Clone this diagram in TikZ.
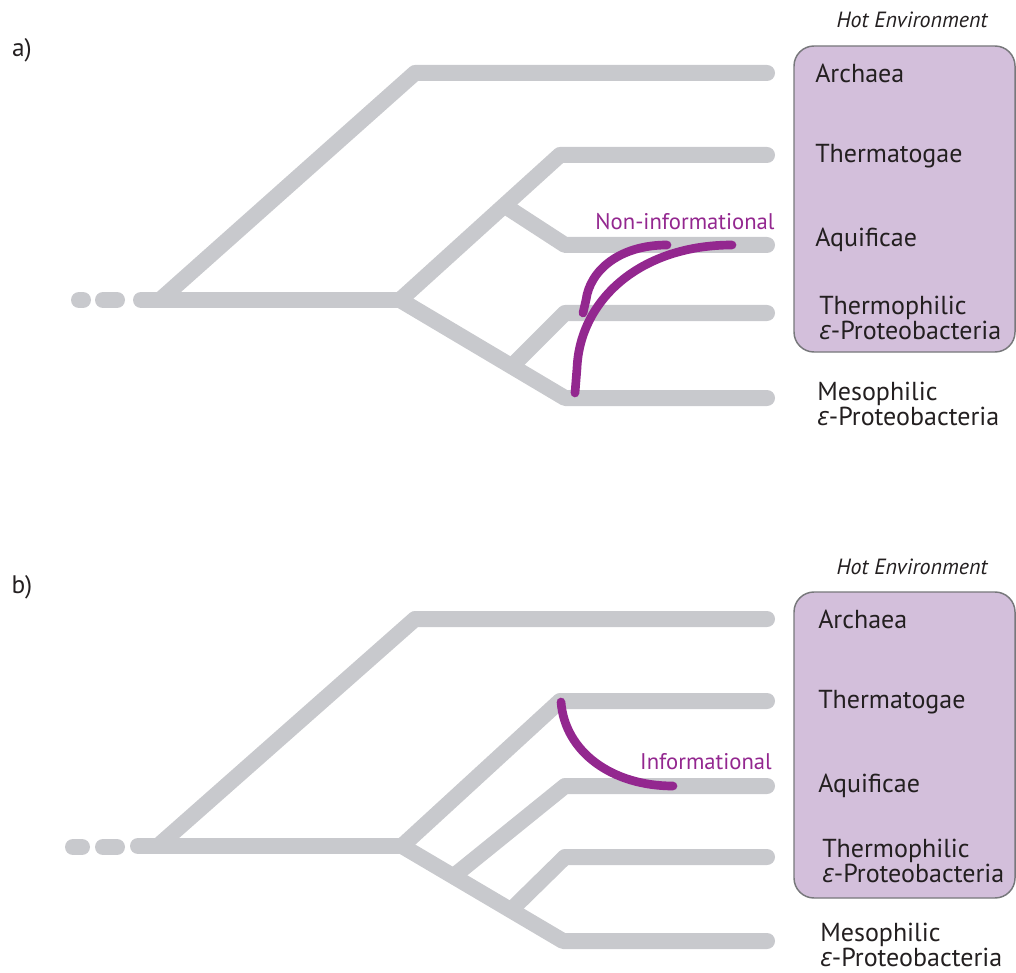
\documentclass[tikz,border=0pt]{standalone}
\usepackage{fontspec}
\setmainfont{PT Sans}
\newfontfamily\greekfont{Open Sans}
\definecolor{treegray}{HTML}{C8C9CD}
\definecolor{hotpurple}{HTML}{93278F}
\definecolor{boxfill}{HTML}{D3BFDB}
\definecolor{boxline}{HTML}{77787B}
\definecolor{labeltext}{HTML}{231F20}
\newcommand{\eps}{{\greekfont\itshape ε}}
\begin{document}
\begin{tikzpicture}[x=0.75pt,y=-0.75pt,
  branch/.style={draw=treegray, line width=12pt, line cap=round, line join=round},
  transfer/.style={draw=hotpurple, line width=6.5pt, line cap=round},
  hotbox/.style={draw=boxline, line width=1.1pt, fill=boxfill, rounded corners=15pt},
  lbl/.style={anchor=west, font=\fontsize{19.5}{17}\selectfont, text=labeltext, align=left, inner sep=0pt},
  envlbl/.style={font=\fontsize{16.5}{18}\selectfont\itshape, text=labeltext, inner sep=0pt},
  panellbl/.style={font=\fontsize{19}{20}\selectfont, text=labeltext, inner sep=0pt},
  hgtlbl/.style={font=\fontsize{17}{18}\selectfont, text=hotpurple, inner sep=0pt}]
\useasboundingbox (0,0) rectangle (1016,973);

% ---------------- panel a ----------------
\node[panellbl] (pa) at (22,50) {a)};
\draw[hotbox] (794,46) rectangle (1015,352);
\node[envlbl] (enva) at (912,20) {Hot Environment};

\coordinate (aR) at (160,300);
\coordinate (aN) at (400,300);
\coordinate (aArc) at (415,73);
\coordinate (aTh) at (560,155);
\coordinate (aAqB) at (505,206);
\coordinate (aAq) at (565,245);
\coordinate (aMe) at (565,398);
\coordinate (aTpB) at (512,366);
\coordinate (aTp) at (565,313);

\draw[branch] (79,300) -- (83,300);
\draw[branch] (103,300) -- (117,300);
\draw[branch] (141,300) -- (aR);
\draw[branch] (aR) -- (aN);
\draw[branch] (aR) -- (aArc) -- (767,73);
\draw[branch] (aN) -- (aTh) -- (767,155);
\draw[branch] (aAqB) -- (aAq) -- (767,245);
\draw[branch] (aN) -- (aMe) -- (767,398);
\draw[branch] (aTpB) -- (aTp) -- (767,313);

\node[lbl] (archa) at (815,73) {Archaea};
\node[lbl] (thermata) at (815,156) {Thermatogae};
\node[lbl] (aquia) at (815,240) {Aquificae};
\node[lbl] (thpha) at (819,318) {Thermophilic\\\eps-Proteobacteria};
\node[lbl] (mesa) at (817,404) {Mesophilic\\\eps-Proteobacteria};

\draw[transfer] (667,245) .. controls (620,245) and (590,270) .. (586,300) -- (583,313);
\draw[transfer] (732,245) .. controls (640,245) and (580,300) .. (577,368) -- (575,393);
\node[hgtlbl] (nonin) at (685,222) {Non-informational};

% ---------------- panel b ----------------
\node[panellbl] (pb) at (22,587) {b)};
\draw[hotbox] (794,592) rectangle (1015,898);
\node[envlbl] (envb) at (912,567) {Hot Environment};

\coordinate (bR) at (158,846);
\coordinate (bN) at (402,846);
\coordinate (bArc) at (415,619);
\coordinate (bTh) at (560,701);
\coordinate (bMe) at (563,941);
\coordinate (bAqB) at (455,875);
\coordinate (bAq) at (565,786);
\coordinate (bTpB) at (513,908);
\coordinate (bTp) at (565,857);

\draw[branch] (73,847) -- (82,847);
\draw[branch] (103,847) -- (117,847);
\draw[branch] (138,846) -- (bR);
\draw[branch] (bR) -- (bN);
\draw[branch] (bR) -- (bArc) -- (767,619);
\draw[branch] (bN) -- (bTh) -- (767,701);
\draw[branch] (bN) -- (bMe) -- (767,941);
\draw[branch] (bAqB) -- (bAq) -- (767,786);
\draw[branch] (bTpB) -- (bTp) -- (767,857);

\node[lbl] (archb) at (818,619) {Archaea};
\node[lbl] (thermb) at (818,702) {Thermatogae};
\node[lbl] (aquib) at (818,786) {Aquificae};
\node[lbl] (thphb) at (822,861) {Thermophilic\\\eps-Proteobacteria};
\node[lbl] (mesb) at (820,945) {Mesophilic\\\eps-Proteobacteria};

\draw[transfer] (561,702) .. controls (565,752) and (612,786) .. (673,786);
\node[hgtlbl] (inf) at (706,762) {Informational};
\end{tikzpicture}
\end{document}
